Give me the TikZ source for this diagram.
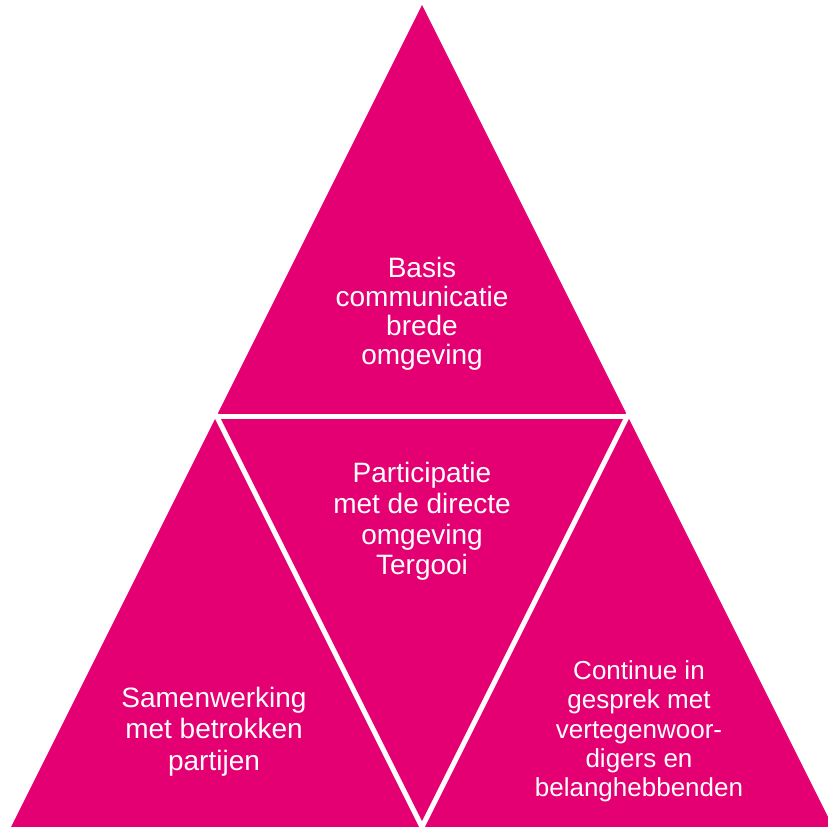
\documentclass[tikz,border=0pt]{standalone}
\usepackage{fontspec}
\setmainfont{Liberation Sans}
\usetikzlibrary{calc}
\definecolor{pinkfill}{RGB}{228,0,114}
\begin{document}
\begin{tikzpicture}[x=1pt,y=-1pt,
  label/.style={text=white,align=center,inner sep=0pt},
  gap/.style={draw=white,line width=5pt}]
\useasboundingbox (0,0) rectangle (828,827);
\begin{scope}
\clip (0,0) rectangle (828,827);
\coordinate (apex) at (422,5);
\coordinate (bl) at (11,827);
\coordinate (br) at (833,827);
\coordinate (ml) at (216.5,416);
\coordinate (mr) at (627.5,416);
\coordinate (mb) at (422,827);
\fill[pinkfill] (apex) -- (bl) -- (br) -- cycle;
\draw[gap] ($(ml)+(-20,0)$) -- ($(mr)+(20,0)$);
\draw[gap] ($(ml)!-0.1!(mb)$) -- ($(ml)!1.1!(mb)$);
\draw[gap] ($(mr)!-0.1!(mb)$) -- ($(mr)!1.1!(mb)$);
\end{scope}
\node[label,font=\fontsize{28}{29}\selectfont] (top) at (422,313.5) {Basis\\communicatie\\brede\\omgeving};
\node[label,font=\fontsize{28}{30.7}\selectfont] (mid) at (422,521.5) {Participatie\\met de directe\\omgeving\\Tergooi};
\node[label,font=\fontsize{28}{31.5}\selectfont] (left) at (214,731.5) {Samenwerking\\met betrokken\\partijen};
\node[label,font=\fontsize{26}{29.25}\selectfont] (right) at (639,731.5) {Continue in\\gesprek met\\vertegenwoor-\\digers en\\belanghebbenden};
\end{tikzpicture}
\end{document}
